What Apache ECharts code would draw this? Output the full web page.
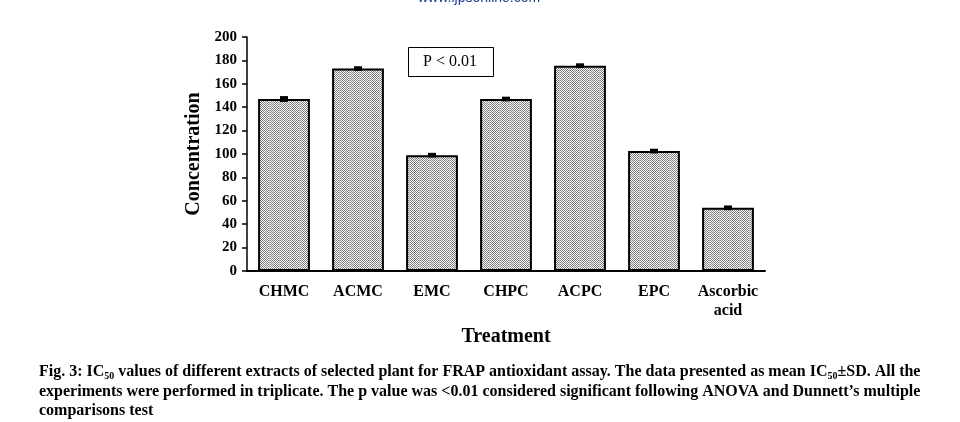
<!DOCTYPE html>
<html><head><meta charset="utf-8">
<script src="https://cdn.jsdelivr.net/npm/echarts@6/dist/echarts.min.js"></script>
<style>html,body{margin:0;padding:0;background:#fff}#c{width:960px;height:422px}</style>
</head><body><div id="c"></div>
<script>
const categories = ['CHMC', 'ACMC', 'EMC', 'CHPC', 'ACPC', 'EPC', 'Ascorbic\nacid'];
const values = [147, 173, 99, 147, 175.5, 102.5, 54];
const errors = [2.5, 2, 2, 2, 2, 2, 2];
const yTicks = [0, 20, 40, 60, 80, 100, 120, 140, 160, 180, 200];

// dotted grey pattern
const pc = document.createElement('canvas');
pc.width = 10; pc.height = 10;
const px = pc.getContext('2d');
px.fillStyle = '#ffffff'; px.fillRect(0, 0, 10, 10);
px.fillStyle = '#7a7a7a';
for (let i = 0; i < 10; i++) for (let j = 0; j < 10; j++) if ((i + j) % 2 === 0) px.fillRect(i, j, 1, 1);
px.fillStyle = '#c4c4c4';
px.fillRect(9, 0, 1, 10);

const chart = echarts.init(document.getElementById('c'));
const serif = 'Liberation Serif';
chart.setOption({
  animation: false,
  grid: { left: 247, right: 195, top: 37, bottom: 151 },
  xAxis: {
    type: 'category', data: categories,
    axisLine: { lineStyle: { color: '#000', width: 2 } },
    axisTick: { show: false },
    axisLabel: { interval: 0, hideOverlap: false, fontFamily: serif, fontWeight: 'bold', fontSize: 16, color: '#000', margin: 11, lineHeight: 19 },
    name: 'Treatment', nameLocation: 'middle', nameGap: 56,
    nameTextStyle: { fontFamily: serif, fontWeight: 'bold', fontSize: 20, color: '#000' }
  },
  yAxis: {
    type: 'value', min: 0, max: 200, interval: 20,
    axisLine: { show: true, lineStyle: { color: '#000', width: 1.5 } },
    axisTick: { show: true, length: 5, lineStyle: { color: '#000', width: 1.5 } },
    splitLine: { show: false },
    axisLabel: { fontFamily: serif, fontWeight: 'bold', fontSize: 15, color: '#000', margin: 10,
      formatter: v => yTicks.includes(v) ? String(v) : '' },
    name: 'Concentration', nameLocation: 'middle', nameGap: 40,
    nameTextStyle: { fontFamily: serif, fontWeight: 'bold', fontSize: 20, color: '#000' }
  },
  series: [
    {
      type: 'bar', data: values, barWidth: '70%',
      itemStyle: { color: { image: pc, repeat: 'repeat' }, borderColor: '#000', borderWidth: 2 }
    },
    {
      type: 'custom',
      data: values.map((v, i) => [i, v, errors[i]]),
      renderItem: (params, api) => {
        const x = api.value(0), v = api.value(1), e = api.value(2);
        const hi = api.coord([x, v + e]);
        const lo = api.coord([x, v - e]);
        const h = Math.max(lo[1] - hi[1], 4);
        return { type: 'rect', shape: { x: hi[0] - 4, y: (hi[1] + lo[1]) / 2 - h / 2, width: 8, height: h },
          style: { fill: '#000' } };
      },
      z: 5
    }
  ],
  graphic: [
    { type: 'text', left: 418, top: -9, style: { text: 'www.ijpsonline.com', fontFamily: 'Liberation Sans', fontSize: 14, fill: '#1d3c8f' } },
    { type: 'rect', shape: { x: 408.5, y: 47.5, width: 85, height: 29 }, style: { fill: '#fff', stroke: '#000', lineWidth: 1 }, z: 10 },
    { type: 'text', x: 450, y: 62, style: { text: 'P < 0.01', fontFamily: serif, fontSize: 16, fill: '#000', align: 'center', verticalAlign: 'middle' }, z: 11 },
    { type: 'text', left: 39, top: 364, style: { text: 'Fig. 3: IC{s|50} values of different extracts of selected plant for FRAP antioxidant assay. The data presented as mean IC{s|50}±SD. All the',
      fontFamily: serif, fontWeight: 'bold', fontSize: 16, fill: '#000', rich: { s: { fontSize: 10, fontFamily: serif, fontWeight: 'bold', verticalAlign: 'bottom', padding: [8, 0, 0, 0] } } } },
    { type: 'text', left: 39, top: 384, style: { text: 'experiments were performed in triplicate. The p value was <0.01 considered significant following ANOVA and Dunnett’s multiple',
      fontFamily: serif, fontWeight: 'bold', fontSize: 16, fill: '#000' } },
    { type: 'text', left: 39, top: 403, style: { text: 'comparisons test', fontFamily: serif, fontWeight: 'bold', fontSize: 16, fill: '#000' } }
  ]
});
</script></body></html>
